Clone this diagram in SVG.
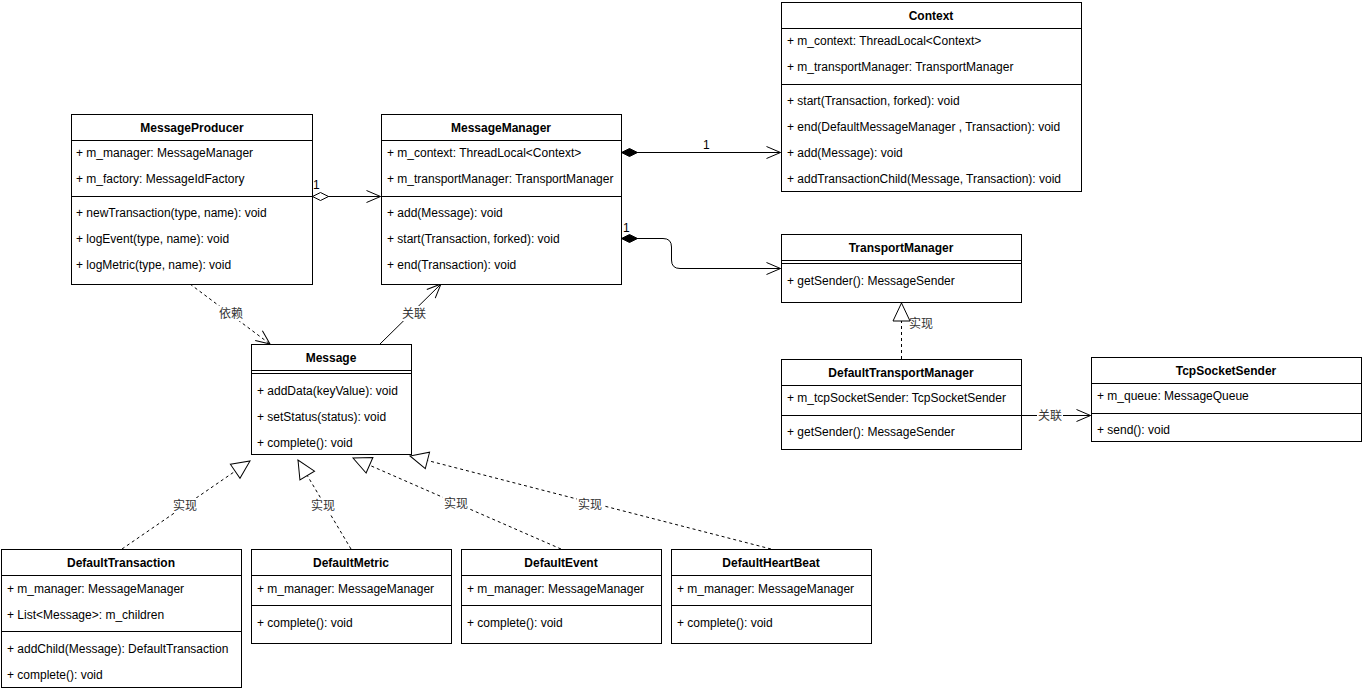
<svg xmlns="http://www.w3.org/2000/svg" width="1363" height="692" viewBox="0 0 1363 692">
<style>
.box{fill:#fff;stroke:#000;stroke-width:1}
.ln{stroke:#000;stroke-width:1;fill:none}
.t{font-family:"Liberation Sans",Arial,sans-serif;font-size:12px;fill:#000}
.h{font-weight:bold;text-anchor:middle}
.c{fill:none;stroke:#000;stroke-width:1}
.d{stroke-dasharray:3,3}
.lbl{font-family:"Liberation Sans","Noto Sans CJK SC",sans-serif;font-size:12px;fill:#333;text-anchor:middle}
.bg{fill:#fff}
</style>
<defs>
<marker id="open" markerUnits="userSpaceOnUse" markerWidth="20" markerHeight="20" refX="15" refY="10" orient="auto" overflow="visible">
<path d="M1,4 L15,10 L1,16" fill="none" stroke="#000" stroke-width="1"/>
</marker>
<marker id="tri" markerUnits="userSpaceOnUse" markerWidth="22" markerHeight="20" refX="19" refY="10" orient="auto" overflow="visible">
<path d="M1,1.5 L19,10 L1,18.5 Z" fill="#fff" stroke="#000" stroke-width="1"/>
</marker>
<marker id="fdia" markerUnits="userSpaceOnUse" markerWidth="20" markerHeight="12" refX="1" refY="6" orient="auto" overflow="visible">
<path d="M1,6 L9,2 L17,6 L9,10 Z" fill="#000" stroke="#000" stroke-width="1"/>
</marker>
<marker id="hdia" markerUnits="userSpaceOnUse" markerWidth="20" markerHeight="12" refX="1" refY="6" orient="auto" overflow="visible">
<path d="M1,6 L9,2 L17,6 L9,10 Z" fill="#fff" stroke="#000" stroke-width="1"/>
</marker>
</defs>
<rect width="1363" height="692" fill="#fff"/>

<g id="connectors">
<path class="c" d="M312.5,196.5 L380.5,196.5" marker-start="url(#hdia)" marker-end="url(#open)"/>
<text class="t" x="313" y="189">1</text>
<path class="c" d="M621.5,152.5 L780.5,152.5" marker-start="url(#fdia)" marker-end="url(#open)"/>
<text class="t" x="703" y="149">1</text>
<path class="c" d="M621.5,238.5 L663,238.5 Q671.5,238.5 671.5,247 L671.5,260 Q671.5,268.5 680,268.5 L780.5,268.5" marker-start="url(#fdia)" marker-end="url(#open)"/>
<text class="t" x="623" y="232">1</text>
<path class="c d" d="M190,284 L270,344" marker-end="url(#open)"/>
<rect class="bg" x="218" y="306" width="26" height="15"/>
<text class="lbl" x="231" y="318">依赖</text>
<path class="c" d="M380,344 L441,284" marker-end="url(#open)"/>
<rect class="bg" x="401" y="306" width="26" height="15"/>
<text class="lbl" x="414" y="318">关联</text>
<path class="c d" d="M901.5,359 L901.5,303" marker-end="url(#tri)"/>
<text class="lbl" x="921" y="328">实现</text>
<path class="c" d="M1021,415.5 L1090.5,415.5" marker-end="url(#open)"/>
<rect class="bg" x="1037" y="408" width="26" height="15"/>
<text class="lbl" x="1050" y="420">关联</text>
<path class="c d" d="M122,549 L250,461" marker-end="url(#tri)"/>
<rect class="bg" x="172" y="498" width="26" height="15"/>
<text class="lbl" x="185" y="510">实现</text>
<path class="c d" d="M351,549 L298,460" marker-end="url(#tri)"/>
<rect class="bg" x="310" y="498" width="26" height="15"/>
<text class="lbl" x="323" y="510">实现</text>
<path class="c d" d="M561,549 L353,458" marker-end="url(#tri)"/>
<rect class="bg" x="443" y="496" width="26" height="15"/>
<text class="lbl" x="456" y="508">实现</text>
<path class="c d" d="M771,549 L410,456" marker-end="url(#tri)"/>
<rect class="bg" x="577" y="497" width="26" height="15"/>
<text class="lbl" x="590" y="509">实现</text>
</g>

<g id="MessageProducer">
<rect class="box" x="71.5" y="114.5" width="241" height="170"/>
<path class="ln" d="M71.5,140.5 H312.5 M71.5,196.5 H312.5"/>
<text class="t h" x="192" y="132">MessageProducer</text>
<text class="t" x="76" y="157">+ m_manager: MessageManager</text>
<text class="t" x="76" y="183">+ m_factory: MessageIdFactory</text>
<text class="t" x="76" y="217">+ newTransaction(type, name): void</text>
<text class="t" x="76" y="243">+ logEvent(type, name): void</text>
<text class="t" x="76" y="269">+ logMetric(type, name): void</text>
</g>

<g id="MessageManager">
<rect class="box" x="381.5" y="114.5" width="240" height="170"/>
<path class="ln" d="M381.5,140.5 H621.5 M381.5,196.5 H621.5"/>
<text class="t h" x="501" y="132">MessageManager</text>
<text class="t" x="387" y="157">+ m_context: ThreadLocal&lt;Context&gt;</text>
<text class="t" x="387" y="183">+ m_transportManager: TransportManager</text>
<text class="t" x="387" y="217">+ add(Message): void</text>
<text class="t" x="387" y="243">+ start(Transaction, forked): void</text>
<text class="t" x="387" y="269">+ end(Transaction): void</text>
</g>

<g id="Context">
<rect class="box" x="781.5" y="2.5" width="300" height="189"/>
<path class="ln" d="M781.5,28.5 H1081.5 M781.5,84.5 H1081.5"/>
<text class="t h" x="931" y="20">Context</text>
<text class="t" x="787" y="45">+ m_context: ThreadLocal&lt;Context&gt;</text>
<text class="t" x="787" y="71">+ m_transportManager: TransportManager</text>
<text class="t" x="787" y="105">+ start(Transaction, forked): void</text>
<text class="t" x="787" y="131">+ end(DefaultMessageManager , Transaction): void</text>
<text class="t" x="787" y="157">+ add(Message): void</text>
<text class="t" x="787" y="183">+ addTransactionChild(Message, Transaction): void</text>
</g>

<g id="TransportManager">
<rect class="box" x="781.5" y="234.5" width="240" height="68"/>
<path class="ln" d="M781.5,260.5 H1021.5 M781.5,263.5 H1021.5"/>
<text class="t h" x="901" y="252">TransportManager</text>
<text class="t" x="787" y="285">+ getSender(): MessageSender</text>
</g>

<g id="DefaultTransportManager">
<rect class="box" x="781.5" y="359.5" width="240" height="90"/>
<path class="ln" d="M781.5,385.5 H1021.5 M781.5,415.5 H1021.5"/>
<text class="t h" x="901" y="377">DefaultTransportManager</text>
<text class="t" x="787" y="402">+ m_tcpSocketSender: TcpSocketSender</text>
<text class="t" x="787" y="436">+ getSender(): MessageSender</text>
</g>

<g id="TcpSocketSender">
<rect class="box" x="1091.5" y="357.5" width="270" height="84"/>
<path class="ln" d="M1091.5,383.5 H1361.5 M1091.5,413.5 H1361.5"/>
<text class="t h" x="1226" y="375">TcpSocketSender</text>
<text class="t" x="1097" y="400">+ m_queue: MessageQueue</text>
<text class="t" x="1097" y="434">+ send(): void</text>
</g>

<g id="Message">
<rect class="box" x="251.5" y="344.5" width="160" height="110"/>
<path class="ln" d="M251.5,370.5 H411.5 M251.5,373.5 H411.5"/>
<text class="t h" x="331" y="362">Message</text>
<text class="t" x="257" y="395">+ addData(keyValue): void</text>
<text class="t" x="257" y="421">+ setStatus(status): void</text>
<text class="t" x="257" y="447">+ complete(): void</text>
</g>

<g id="DefaultTransaction">
<rect class="box" x="1.5" y="549.5" width="240" height="138"/>
<path class="ln" d="M1.5,575.5 H241.5 M1.5,631.5 H241.5"/>
<text class="t h" x="121" y="567">DefaultTransaction</text>
<text class="t" x="7" y="593">+ m_manager: MessageManager</text>
<text class="t" x="7" y="619">+ List&lt;Message&gt;: m_children</text>
<text class="t" x="7" y="653">+ addChild(Message): DefaultTransaction</text>
<text class="t" x="7" y="679">+ complete(): void</text>
</g>

<g id="DefaultMetric">
<rect class="box" x="251.5" y="549.5" width="200" height="94"/>
<path class="ln" d="M251.5,575.5 H451.5 M251.5,605.5 H451.5"/>
<text class="t h" x="351" y="567">DefaultMetric</text>
<text class="t" x="257" y="593">+ m_manager: MessageManager</text>
<text class="t" x="257" y="627">+ complete(): void</text>
</g>

<g id="DefaultEvent">
<rect class="box" x="461.5" y="549.5" width="200" height="94"/>
<path class="ln" d="M461.5,575.5 H661.5 M461.5,605.5 H661.5"/>
<text class="t h" x="561" y="567">DefaultEvent</text>
<text class="t" x="467" y="593">+ m_manager: MessageManager</text>
<text class="t" x="467" y="627">+ complete(): void</text>
</g>

<g id="DefaultHeartBeat">
<rect class="box" x="671.5" y="549.5" width="200" height="94"/>
<path class="ln" d="M671.5,575.5 H871.5 M671.5,605.5 H871.5"/>
<text class="t h" x="771" y="567">DefaultHeartBeat</text>
<text class="t" x="677" y="593">+ m_manager: MessageManager</text>
<text class="t" x="677" y="627">+ complete(): void</text>
</g>
</svg>
